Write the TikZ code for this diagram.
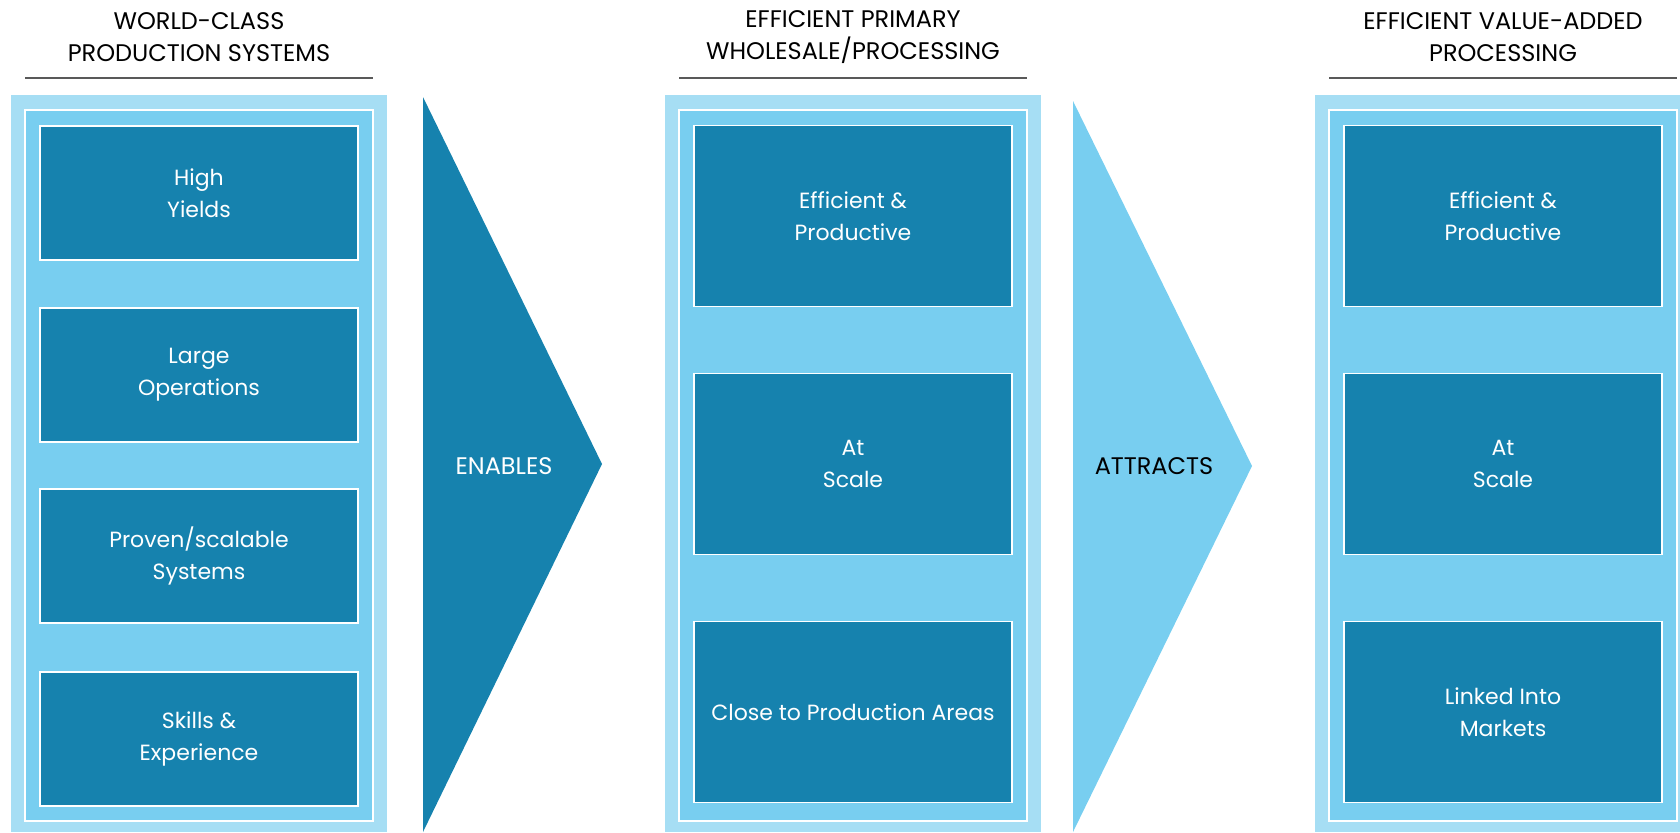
\documentclass[tikz,border=0pt]{standalone}
\usepackage{fontspec}
\setmainfont{Poppins}
\usetikzlibrary{positioning}
\definecolor{Deep}{HTML}{1682AE}
\definecolor{Sky}{HTML}{78CEF0}
\definecolor{Pale}{HTML}{A6DEF4}
\definecolor{RuleGrey}{HTML}{595959}
\newcommand{\stagepanel}[1]{%
  \fill[Pale] (#1,95) rectangle ++(376,737);
  \draw[fill=Sky,draw=white,line width=0.75pt] (#1+14,110) rectangle ++(348,711);
  \draw[RuleGrey,line width=0.6pt] (#1+14,78) -- ++(348,0);
}
\tikzset{
  cell/.style={draw=white,fill=Deep,line width=0.75pt,text=white,align=center,
    minimum width=159pt,font=\fontsize{11}{16}\selectfont},
  shortcell/.style={cell,minimum height=67pt},
  tallcell/.style={cell,minimum height=90.5pt},
  heading/.style={align=center,font=\fontsize{12}{16}\selectfont},
}

\begin{document}
\begin{tikzpicture}[x=0.5pt,y=-0.5pt]
  \useasboundingbox (0,0) rectangle (1680,832);
  \stagepanel{11}\stagepanel{665}\stagepanel{1315}
  % chevrons between the stages
  \fill[Deep] (423,97) -- (602,464) -- (423,832) -- cycle;
  \fill[Sky] (1073,101) -- (1252,466) -- (1073,832) -- cycle;
  \node[text=white,font=\fontsize{12}{16}\selectfont] (enables) at (504,466) {ENABLES};
  \node[font=\fontsize{12}{16}\selectfont] (attracts) at (1154,466) {ATTRACTS};
  % headings
  \node[heading] (h1) at (199,37) {WORLD-CLASS\\PRODUCTION SYSTEMS};
  \node[heading] (h2) at (853,37) {EFFICIENT PRIMARY\\WHOLESALE/PROCESSING};
  \node[heading] (h3) at (1503,37) {EFFICIENT VALUE-ADDED\\PROCESSING};
  % production systems
  \node[shortcell] (yields) at (199,193) {High\\Yields};
  \node[shortcell] (ops) at (199,375) {Large\\Operations};
  \node[shortcell] (systems) at (199,556) {Proven/scalable\\Systems};
  \node[shortcell] (skills) at (199,739) {Skills \&\\Experience};
  % primary processing
  \node[tallcell] (prod1) at (853,216) {Efficient \&\\Productive};
  \node[tallcell] (scale1) at (853,464) {At\\Scale};
  \node[tallcell] (close) at (853,712) {Close to Production Areas};
  % value-added processing
  \node[tallcell] (prod2) at (1503,216) {Efficient \&\\Productive};
  \node[tallcell] (scale2) at (1503,464) {At\\Scale};
  \node[tallcell] (markets) at (1503,712) {Linked Into\\Markets};
\end{tikzpicture}
\end{document}
